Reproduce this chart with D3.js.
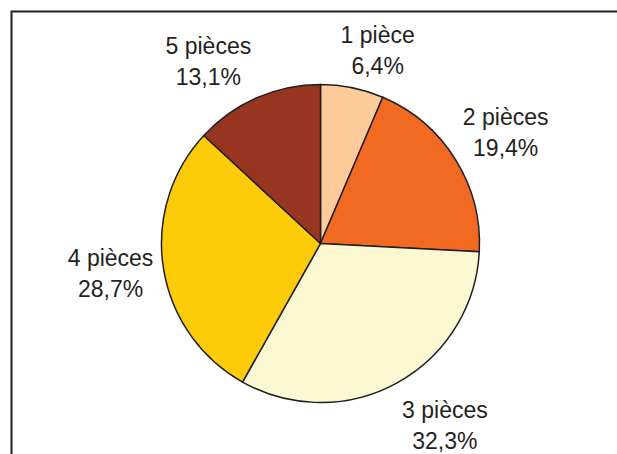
<!DOCTYPE html>
<html>
<head>
<meta charset="utf-8">
<script src="https://cdn.jsdelivr.net/npm/d3@7"></script>
<style>
  body { margin: 0; background: #fff; }
  text { font-family: "Liberation Sans", Arial, sans-serif; fill: #231f20; }
</style>
</head>
<body>
<div id="chart-area"></div>
<script>
const categories = ['1 pièce', '2 pièces', '3 pièces', '4 pièces', '5 pièces'];
const shares = [6.4, 19.4, 32.3, 28.7, 13.1];
const shareLabels = ['6,4%', '19,4%', '32,3%', '28,7%', '13,1%'];
const colours = ['#fdcb9a', '#f26922', '#fcf8d2', '#fdcb08', '#973520'];

const drawChart = () => {
  const chartSize = { width: 617, height: 454 };
  const centre = { x: 320.5, y: 243.5 };
  const radius = 159;

  const svg = d3.select('#chart-area')
    .append('svg')
    .attr('width', chartSize.width)
    .attr('height', chartSize.height);

  // frame: only top and left edges are visible
  svg.append('path')
    .attr('d', `M11.5,${chartSize.height} L11.5,11.5 L${chartSize.width},11.5`)
    .attr('fill', 'none')
    .attr('stroke', '#231f20')
    .attr('stroke-width', 2);

  const slices = categories.map((c, i) => ({ name: c, value: shares[i], label: shareLabels[i], colour: colours[i] }));

  const pie = d3.pie().sort(null).value(d => d.value);
  const arc = d3.arc().innerRadius(0).outerRadius(radius);

  const g = svg.append('g')
    .attr('transform', `translate(${centre.x},${centre.y})`);

  const arcs = pie(slices);

  g.selectAll('path.slice').data(arcs).enter()
    .append('path')
    .attr('class', 'slice')
    .attr('d', arc)
    .attr('fill', d => d.data.colour)
    .attr('stroke', '#231f20')
    .attr('stroke-width', 1.5)
    .attr('stroke-linejoin', 'round');

  // label placement: distance from centre and small angle nudge per slice
  const labelRadius = [202, 216, 220, 212, 214];
  const labelNudge = [4.9, 1, -5.6, 1, -8];
  const labelPos = (d, i) => {
    const a = (d.startAngle + d.endAngle) / 2 + labelNudge[i] * Math.PI / 180;
    return [labelRadius[i] * Math.sin(a), -labelRadius[i] * Math.cos(a)];
  };

  const labels = g.selectAll('text.label').data(arcs).enter()
    .append('text')
    .attr('class', 'label')
    .attr('text-anchor', 'middle')
    .attr('font-size', 23)
    .attr('transform', (d, i) => {
      const [x, y] = labelPos(d, i);
      return `translate(${x},${y})`;
    });

  labels.append('tspan').attr('x', 0).attr('y', -7).text(d => d.data.name);
  labels.append('tspan').attr('x', 0).attr('y', 24).text(d => d.data.label);
};

window.onload = drawChart;
</script>
</body>
</html>
